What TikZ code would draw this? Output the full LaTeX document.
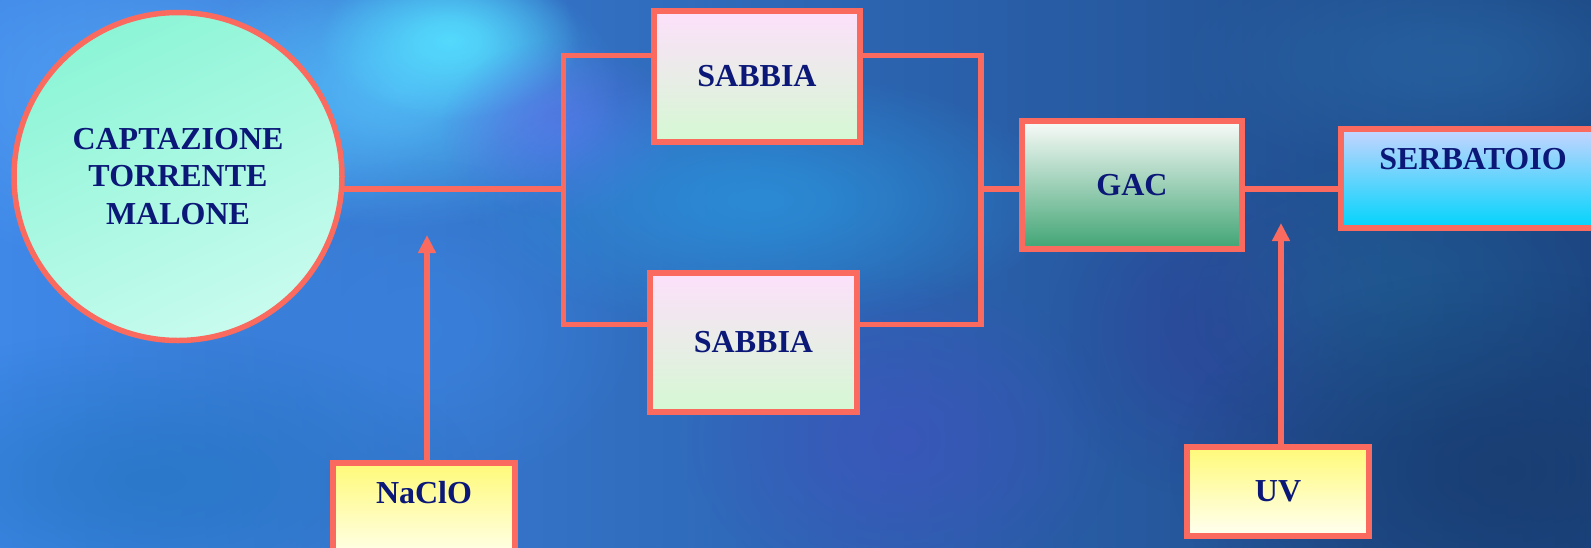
\documentclass[tikz,border=0pt]{standalone}
\usepackage{fontspec}
\setmainfont{Liberation Serif}
\usetikzlibrary{arrows.meta,fadings}

\definecolor{edge}{HTML}{FA6A5E}
\definecolor{ink}{HTML}{0B1878}
% backdrop tones
\definecolor{bgA}{HTML}{3F88E8}
\definecolor{bgB}{HTML}{2D68CC}
\definecolor{bgC}{HTML}{1C4682}
\definecolor{bgLight}{HTML}{55A2F4}
\definecolor{bgSky}{HTML}{55C4FB}
\definecolor{bgCyan}{HTML}{55E0FF}
\definecolor{bgViolet}{HTML}{6470F0}
\definecolor{bgMid}{HTML}{3C86E4}
\definecolor{bgTeal}{HTML}{2A98E0}
\definecolor{bgLow}{HTML}{2474C2}
\definecolor{bgPurple}{HTML}{4250C0}
\definecolor{bgDeep}{HTML}{30409A}
\definecolor{bgSteel}{HTML}{2A6AA8}
\definecolor{bgNavy}{HTML}{173A6C}
\definecolor{bgSea}{HTML}{1E6090}
% fills of the units
\definecolor{srcTop}{HTML}{8CF5D6}
\definecolor{srcBot}{HTML}{C8FBEE}
\definecolor{sandTop}{HTML}{FDE0FB}
\definecolor{sandBot}{HTML}{D5F9D3}
\definecolor{gacTop}{HTML}{F9FBF9}
\definecolor{gacBot}{HTML}{40A474}
\definecolor{tankTop}{HTML}{C8D4FE}
\definecolor{tankBot}{HTML}{00D4FC}
\definecolor{doseTop}{HTML}{FFFA78}
\definecolor{doseBot}{HTML}{FFFFF2}

% soft round mask for the cloudy backdrop
\pgfdeclareradialshading{blobshade}{\pgfpointorigin}%
  {color(0bp)=(white); color(6bp)=(white!85!black); color(25bp)=(black); color(50bp)=(black)}
\pgfdeclarefading{softblob}{\pgfuseshading{blobshade}}

\pgfdeclarelayer{bg}
\pgfdeclarelayer{wires}
\pgfsetlayers{bg,wires,main}

\tikzset{
  box/.style={draw=edge, line width=5.5pt, inner sep=0pt, align=center,
    text=ink, font=\bfseries\fontsize{32pt}{37.5pt}\selectfont},
  sandbox/.style={box, top color=sandTop, bottom color=sandBot},
  dosebox/.style={box, top color=doseTop, bottom color=doseBot},
  wire/.style={draw=edge, line width=5.5pt},
  feed/.style={wire, -{Triangle[width=17pt,length=18pt]}},
  blob/.style={fill=#1, path fading=softblob},
}

\begin{document}
\begin{tikzpicture}[x=1pt,y=-1pt]
\useasboundingbox (0,0) rectangle (1591,547);

% textured blue backdrop
\begin{pgfonlayer}{bg}
  \shade[left color=bgA, middle color=bgB, right color=bgC]
    (0,0) rectangle (1591,547);
  \fill[blob=bgLight, fill opacity=.8] (150,90) ellipse (300 and 180);
  \fill[blob=bgSky, fill opacity=.8] (400,90) ellipse (220 and 140);
  \fill[blob=bgCyan, fill opacity=.9] (450,40) ellipse (130 and 80);
  \fill[blob=bgViolet, fill opacity=.6] (560,130) ellipse (120 and 90);
  \fill[blob=bgMid, fill opacity=.6] (420,330) ellipse (220 and 170);
  \fill[blob=bgTeal, fill opacity=.7] (760,200) ellipse (300 and 130);
  \fill[blob=bgLow, fill opacity=.7] (150,480) ellipse (330 and 150);
  \fill[blob=bgPurple, fill opacity=.6] (900,440) ellipse (220 and 170);
  \fill[blob=bgDeep, fill opacity=.6] (1220,330) ellipse (180 and 170);
  \fill[blob=bgSteel, fill opacity=.6] (1450,60) ellipse (280 and 120);
  \fill[blob=bgSea, fill opacity=.5] (1380,300) ellipse (220 and 150);
  \fill[blob=bgNavy, fill opacity=.7] (1500,470) ellipse (330 and 200);
\end{pgfonlayer}

% process units
\node[box, circle, minimum size=328pt, top color=srcTop, bottom color=srcBot,
      shading angle=25] (src) at (178,176.5) {CAPTAZIONE\\TORRENTE\\MALONE};
\node[sandbox, minimum width=206pt, minimum height=131pt] (s1) at (757,76.5) {SABBIA};
\node[sandbox, minimum width=207pt, minimum height=139pt] (s2) at (753.5,342.5) {SABBIA};
\node[box, minimum width=220pt, minimum height=128pt,
      top color=gacTop, bottom color=gacBot] (gac) at (1132,185) {GAC};
\node[box, anchor=north, minimum width=264pt, text height=40.6pt, text depth=58.4pt,
      top color=tankTop, bottom color=tankBot] (tank) at (1473,126) {SERBATOIO};
\node[dosebox, anchor=north, minimum width=182pt, text height=40.6pt, text depth=59.4pt]
      (naclo) at (424,460) {NaClO};
\node[dosebox, minimum width=182pt, minimum height=89pt] (uv) at (1278,491.5) {UV};

% junction points of the parallel filter line
\coordinate (jl) at (563.5,189);
\coordinate (jr) at (981,189);
\coordinate (ut) at (563.5,55.5);
\coordinate (ub) at (563.5,324.5);
\coordinate (vt) at (981,55.5);
\coordinate (vb) at (981,324.5);
\coordinate (ntip) at (427,235);
\coordinate (utip) at (1281,223);

\begin{pgfonlayer}{wires}
  \draw[wire] (src.center |- jl) -- (jl);
  \draw[wire] (s1.center |- ut) -- (ut) -- (ub) -- (s2.center |- ub);
  \draw[wire] (s1.center |- vt) -- (vt) -- (vb) -- (s2.center |- vb);
  \draw[wire] (jr) -- (gac.center |- jr);
  \draw[wire] (gac.center |- jr) -- (tank.center |- jr);
  \draw[feed] (ntip |- naclo.north) -- (ntip);
  \draw[feed] (utip |- uv.north) -- (utip);
\end{pgfonlayer}
\end{tikzpicture}
\end{document}
